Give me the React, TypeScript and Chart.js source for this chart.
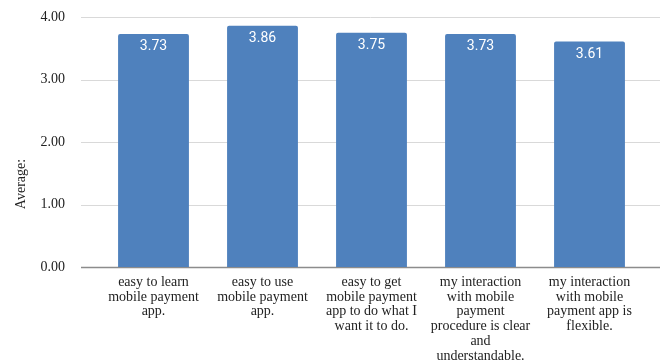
import React, { useEffect, useRef } from "react";
import { Chart, registerables } from "chart.js";

Chart.register(...registerables);

const categories: string[][] = [
  ["easy to learn", "mobile payment", "app."],
  ["easy to use", "mobile payment", "app."],
  ["easy to get", "mobile payment", "app to do what I", "want it to do."],
  ["my interaction", "with mobile", "payment", "procedure is clear", "and", "understandable."],
  ["my interaction", "with mobile", "payment app is", "flexible."],
];
const averages: number[] = [3.73, 3.86, 3.75, 3.73, 3.61];
const yTitle = "Average:";

const SERIF = "'Liberation Serif', 'Times New Roman', serif";

const gridPlugin = {
  id: "extGrid",
  beforeDatasetsDraw(chart: any) {
    const { ctx, scales } = chart;
    const y = scales.y;
    ctx.save();
    y.ticks.forEach((t: any) => {
      const py = Math.round(y.getPixelForValue(t.value)) + 0.5;
      ctx.beginPath();
      ctx.strokeStyle = t.value === 0 ? "#8c8c8c" : "#d9d9d9";
      ctx.lineWidth = t.value === 0 ? 1.5 : 1;
      ctx.moveTo(81, py);
      ctx.lineTo(chart.width, py);
      ctx.stroke();
    });
    ctx.restore();
  },
  afterDatasetsDraw(chart: any) {
    const { ctx } = chart;
    const meta = chart.getDatasetMeta(0);
    ctx.save();
    ctx.fillStyle = "#ffffff";
    ctx.font = "14px Roboto, Arial, sans-serif";
    ctx.textAlign = "center";
    ctx.textBaseline = "middle";
    meta.data.forEach((bar: any, i: number) => {
      ctx.fillText(averages[i].toFixed(2), bar.x, bar.y + 13);
    });
    ctx.restore();
    ctx.save();
    ctx.fillStyle = "#222";
    ctx.font = "14px " + SERIF;
    ctx.textAlign = "center";
    ctx.textBaseline = "middle";
    ctx.translate(21, 184);
    ctx.rotate(-Math.PI / 2);
    ctx.fillText(yTitle, 0, 0);
    ctx.restore();
  },
};

export default function App() {
  const ref = useRef<HTMLCanvasElement>(null);
  useEffect(() => {
    if (!ref.current) return;
    const chart = new Chart(ref.current, {
      type: "bar",
      data: {
        labels: categories,
        datasets: [
          {
            data: averages,
            backgroundColor: "#4f81bd",
            borderRadius: 2,
            borderSkipped: "bottom",
            categoryPercentage: 1,
            barPercentage: 0.65,
          },
        ],
      },
      options: {
        animation: false,
        responsive: false,
        layout: { padding: { top: 17, right: 16, left: 0, bottom: 0 } },
        plugins: { legend: { display: false }, tooltip: { enabled: false } },
        scales: {
          x: {
            grid: { display: false },
            border: { display: false },
            afterFit: (s: any) => {
              s.height = 95;
            },
            ticks: {
              autoSkip: false,
              maxRotation: 0,
              minRotation: 0,
              padding: 0,
              color: "#222",
              font: { family: SERIF, size: 14, lineHeight: 1.05 },
            },
          },
          y: {
            min: 0,
            max: 4,
            grid: { display: false },
            border: { display: false },
            afterFit: (s: any) => {
              s.width = 99;
              s.paddingTop = 8;
              s.paddingBottom = 8;
            },
            ticks: {
              stepSize: 1,
              padding: 26,
              color: "#222",
              font: { family: SERIF, size: 14 },
              callback: (v: any) => Number(v).toFixed(2),
            },
          },
        },
      },
      plugins: [gridPlugin],
    });
    return () => chart.destroy();
  }, []);
  return (
    <div style={{ position: "fixed", left: 0, top: 0, width: 660, height: 362, background: "#fff" }}>
      <canvas ref={ref} width={660} height={362} />
    </div>
  );
}
